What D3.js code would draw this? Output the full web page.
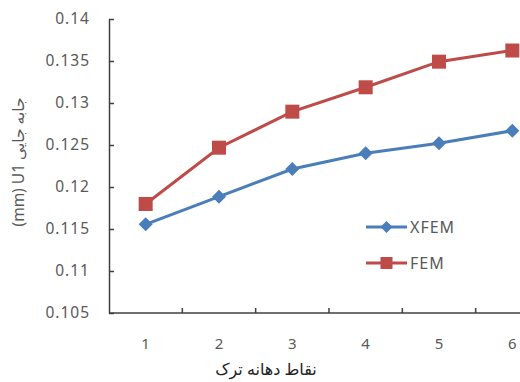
<!DOCTYPE html>
<html><head><meta charset="utf-8">
<script src="https://cdn.jsdelivr.net/npm/d3@7"></script>
<style>body{margin:0;background:#fff}svg{display:block}</style>
</head><body>
<svg id="c" width="520" height="382"></svg>
<script>
const categories = ["1","2","3","4","5","6"];
const xfem = [0.11556, 0.11885, 0.12214, 0.12401, 0.12520, 0.12670];
const fem  = [0.11798, 0.12468, 0.12897, 0.13187, 0.13492, 0.13625];
const yTicks = [0.105,0.11,0.115,0.12,0.125,0.13,0.135,0.14];
const seriesNames = ["XFEM","FEM"];

const svg = d3.select("#c");
const L=109, T=19, B=313, R=549;
const font = "'Noto Sans','DejaVu Sans',sans-serif";
const x = d3.scaleBand().domain(categories).range([L,R]);
const y = d3.scaleLinear().domain([0.105,0.14]).range([B,T]);
const axisCol="#404040", textCol="#595959";

// y axis
const ya = svg.append("g").attr("transform",`translate(${L},0)`)
  .call(d3.axisLeft(y).tickValues(yTicks).tickSizeInner(-5).tickSizeOuter(0).tickPadding(19).tickFormat(d=>String(+d.toFixed(3))));
ya.select(".domain").attr("stroke",axisCol).attr("stroke-width",1.5);
ya.selectAll("line").attr("stroke",axisCol).attr("stroke-width",1.5);
ya.selectAll("text").attr("fill",textCol).style("font-family",font).style("font-size","15.5px").style("letter-spacing","1px");

// x axis
const xa = svg.append("g").attr("transform",`translate(0,${B})`)
  .call(d3.axisBottom(x).tickSize(0).tickPadding(25));
xa.select(".domain").attr("stroke",axisCol).attr("stroke-width",1.5).attr("d",`M${L},0H${R}`);
xa.selectAll("text").attr("fill",textCol).style("font-family",font).style("font-size","15px");
xa.selectAll(".tk").data(categories.slice(1)).enter().append("line")
  .attr("x1",d=>x(d)).attr("x2",d=>x(d)).attr("y1",0).attr("y2",-5)
  .attr("stroke",axisCol).attr("stroke-width",1.5);

// titles
svg.append("text").attr("x",266).attr("y",375).attr("text-anchor","middle")
  .style("font-family",font).style("font-size","16px").attr("fill","#222")
  .text("نقاط دهانه ترک");
svg.append("text").attr("transform","translate(24,162) rotate(-90)").attr("text-anchor","middle")
  .style("font-family",font).style("font-size","15.5px").attr("fill",textCol)
  .text("(mm) U1 جابه جایی");

const cx = d => x(d)+x.bandwidth()/2;
const line = d3.line().x((d,i)=>cx(categories[i])).y(d=>y(d));
const blue="#4a7ebb", red="#be4b48";

svg.append("path").datum(xfem).attr("d",line).attr("fill","none").attr("stroke",blue).attr("stroke-width",3);
svg.append("path").datum(fem).attr("d",line).attr("fill","none").attr("stroke",red).attr("stroke-width",3);

const diamond = (g,px,py,s=7)=>g.append("path").attr("d",`M${px},${py-s}L${px+s},${py}L${px},${py+s}L${px-s},${py}Z`).attr("fill",blue);
const square = (g,px,py,s=7)=>g.append("rect").attr("x",px-s).attr("y",py-s).attr("width",2*s).attr("height",2*s).attr("fill",red);

xfem.forEach((v,i)=>diamond(svg,cx(categories[i]),y(v)));
fem.forEach((v,i)=>square(svg,cx(categories[i]),y(v)));

// legend
const lg=[{n:seriesNames[0],c:blue,m:diamond,yy:227,s:6},{n:seriesNames[1],c:red,m:square,yy:263,s:6}];
lg.forEach(o=>{
  svg.append("line").attr("x1",366).attr("x2",407).attr("y1",o.yy).attr("y2",o.yy).attr("stroke",o.c).attr("stroke-width",3);
  o.m(svg,386.5,o.yy,o.s);
  svg.append("text").attr("x",410).attr("y",o.yy+6).style("font-family",font).style("font-size","16px").style("letter-spacing","1px").attr("fill",textCol).text(o.n);
});
</script>
</body></html>
